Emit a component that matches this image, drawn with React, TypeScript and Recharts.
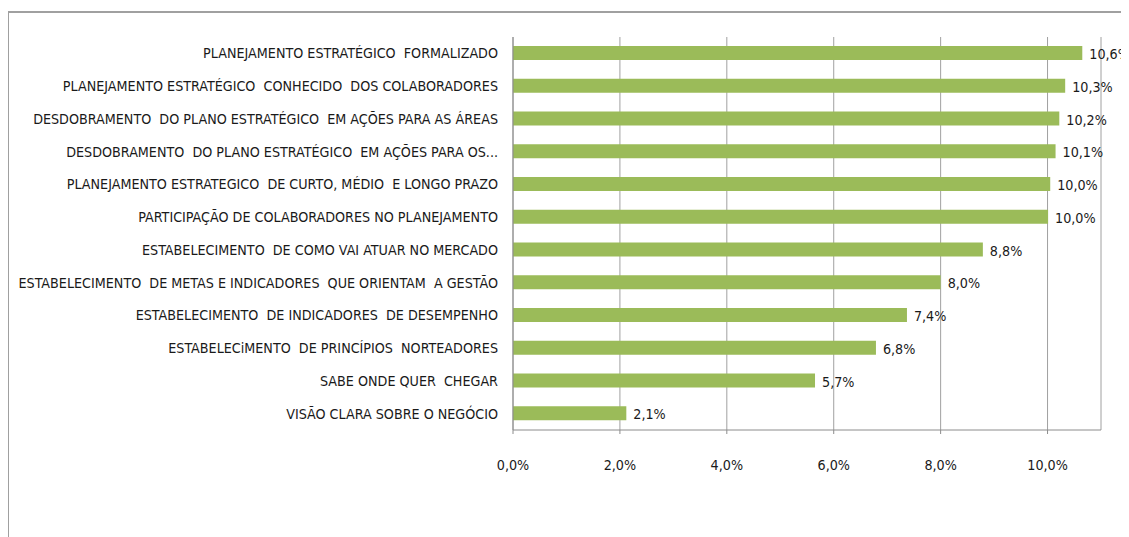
import React from 'react';
import { BarChart, Bar, XAxis, YAxis, CartesianGrid, LabelList } from 'recharts';

if (typeof document !== 'undefined') {
  document.body.style.overflow = 'hidden';
}

const categories = [
  'PLANEJAMENTO ESTRATÉGICO  FORMALIZADO',
  'PLANEJAMENTO ESTRATÉGICO  CONHECIDO  DOS COLABORADORES',
  'DESDOBRAMENTO  DO PLANO ESTRATÉGICO  EM AÇÕES PARA AS ÁREAS',
  'DESDOBRAMENTO  DO PLANO ESTRATÉGICO  EM AÇÕES PARA OS...',
  'PLANEJAMENTO ESTRATEGICO  DE CURTO, MÉDIO  E LONGO PRAZO',
  'PARTICIPAÇÃO DE COLABORADORES NO PLANEJAMENTO',
  'ESTABELECIMENTO  DE COMO VAI ATUAR NO MERCADO',
  'ESTABELECIMENTO  DE METAS E INDICADORES  QUE ORIENTAM  A GESTÃO',
  'ESTABELECIMENTO  DE INDICADORES  DE DESEMPENHO',
  'ESTABELECiMENTO  DE PRINCÍPIOS  NORTEADORES',
  'SABE ONDE QUER  CHEGAR',
  'VISÃO CLARA SOBRE O NEGÓCIO',
];
const values = [10.65, 10.33, 10.22, 10.15, 10.05, 10.01, 8.79, 8.0, 7.37, 6.79, 5.65, 2.12];
const valueLabels = ['10,6%', '10,3%', '10,2%', '10,1%', '10,0%', '10,0%', '8,8%', '8,0%', '7,4%', '6,8%', '5,7%', '2,1%'];
const xTicks = [0, 2, 4, 6, 8, 10];
const boundaryTicks = [0, 1, 2, 3, 4, 5, 6, 7, 8, 9, 10, 11, 12];

const data = categories.map((name, i) => ({ name, value: values[i], label: valueLabels[i] }));

const FONT = "'DejaVu Sans Condensed', 'Liberation Sans', sans-serif";
const FS = 14.2;

const CatTick = (props: any) => {
  const { x, y, payload } = props;
  return (
    <text x={x - 7} y={y} dy={5} textAnchor="end" fontFamily={FONT} fontSize={FS} fill="#1a1a1a" style={{ whiteSpace: 'pre' }}>
      {payload.value}
    </text>
  );
};

const XTick = (props: any) => {
  const { x, y, payload } = props;
  return (
    <text x={x} y={y + 34} textAnchor="middle" fontFamily={FONT} fontSize={FS} fill="#1a1a1a">
      {payload.value.toFixed(1).replace('.', ',') + '%'}
    </text>
  );
};

const ValueLabel = (props: any) => {
  const { x, y, width, height, index } = props;
  return (
    <text x={x + width + 7} y={y + height / 2 + 6} textAnchor="start" fontFamily={FONT} fontSize={FS} fill="#1a1a1a">
      {valueLabels[index]}
    </text>
  );
};

export default function App() {
  return (
    <div style={{ position: 'relative', width: 1121, height: 529 }}>
      <BarChart
        width={1121}
        height={529}
        data={data}
        layout="vertical"
        margin={{ top: 29, right: 28, left: 0, bottom: 0 }}
        barCategoryGap={0}
      >
        <CartesianGrid horizontal={false} stroke="#a0a0a0" yAxisId="cat" />
        <XAxis
          type="number"
          domain={[0, 11]}
          ticks={xTicks}
          allowDataOverflow
          height={107}
          axisLine={{ stroke: '#8c8c8c' }}
          tickLine={{ stroke: '#8c8c8c' }}
          tickSize={4}
          tick={<XTick />}
        />
        <YAxis
          yAxisId="grid"
          type="number"
          orientation="left"
          domain={[0, 12]}
          ticks={boundaryTicks}
          width={1}
          tick={false}
          axisLine={false}
          tickLine={{ stroke: '#8c8c8c' }}
          tickSize={4}
        />
        <YAxis
          yAxisId="cat"
          type="category"
          dataKey="name"
          width={504}
          axisLine={{ stroke: '#8c8c8c' }}
          tickLine={false}
          tickSize={6}
          tickMargin={2}
          interval={0}
          tick={<CatTick />}
        />
        <Bar yAxisId="cat" dataKey="value" fill="#9BBB59" barSize={14} isAnimationActive={false}>
          <LabelList dataKey="label" content={<ValueLabel />} />
        </Bar>
      </BarChart>
      <div
        style={{
          position: 'absolute',
          left: -1,
          top: 3,
          width: 1122,
          height: 526,
          borderLeft: '2px solid #a0a0a0',
          borderTop: '2px solid #a0a0a0',
          boxSizing: 'border-box',
          pointerEvents: 'none',
        }}
      />
    </div>
  );
}
